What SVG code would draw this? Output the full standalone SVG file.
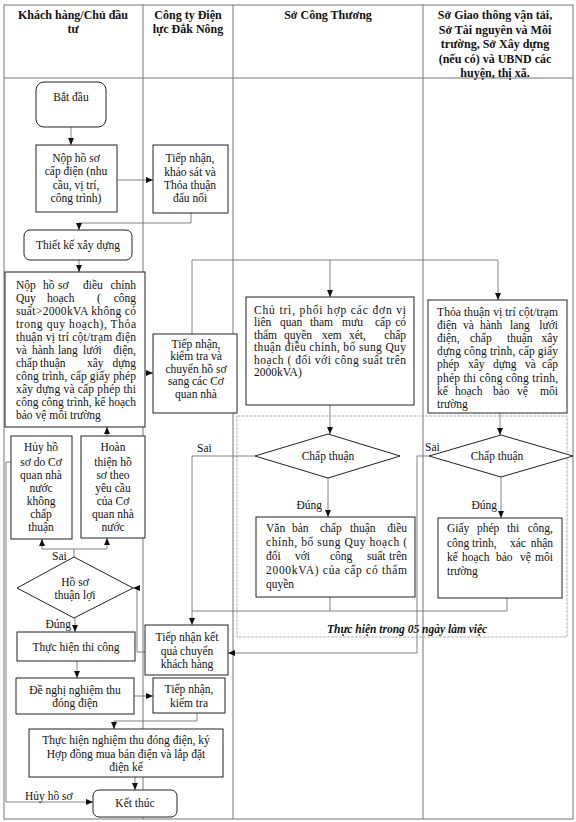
<svg xmlns="http://www.w3.org/2000/svg" width="576" height="822" viewBox="0 0 576 822">
<style>
.grid{fill:none;stroke:#777;stroke-width:1}
.b{fill:#fff;stroke:#222;stroke-width:1}
.c{fill:none;stroke:#666;stroke-width:0.8}
.dash{fill:none;stroke:#aaa;stroke-width:0.9;stroke-dasharray:3 1}
.h{font-family:"Liberation Serif",serif;font-size:12px;font-weight:bold;fill:#111;text-anchor:middle}
.t{font-family:"Liberation Serif",serif;font-size:11.5px;fill:#111}
.m{text-anchor:middle}
.e{text-anchor:end}
.bi{font-family:"Liberation Serif",serif;font-size:11.5px;font-weight:bold;font-style:italic;fill:#111}
</style>
<defs>
<marker id="a" markerWidth="7" markerHeight="6" refX="7" refY="3" orient="auto" markerUnits="userSpaceOnUse">
<path d="M0,0 L7,3 L0,6 z" fill="#111"/>
</marker>
</defs>
<rect width="576" height="822" fill="#fff"/>
<g id="table">
<rect class="grid" x="4" y="5" width="569" height="814"/>
<line class="grid" x1="4" y1="78" x2="573" y2="78"/>
<line class="grid" x1="143" y1="5" x2="143" y2="819"/>
<line class="grid" x1="233" y1="5" x2="233" y2="819"/>
<line class="grid" x1="423" y1="5" x2="423" y2="819"/>
<text class="h" x="73" y="19">Khách hàng/Chủ đầu</text>
<text class="h" x="73" y="33">tư</text>
<text class="h" x="188" y="19">Công ty Điện</text>
<text class="h" x="188" y="33">lực Đắk Nông</text>
<text class="h" x="328" y="19">Sở Công Thương</text>
<text class="h" x="495" y="19">Sở Giao thông vận tải,</text>
<text class="h" x="495" y="34">Sở Tài nguyên và Môi</text>
<text class="h" x="495" y="48">trường, Sở Xây dựng</text>
<text class="h" x="495" y="63">(nếu có) và UBND các</text>
<text class="h" x="495" y="77">huyện, thị xã.</text>
</g>
<g id="region">
<rect class="dash" x="237" y="416" width="330" height="221"/>
<text class="bi" x="327" y="633">Thực hiện trong 05 ngày làm việc</text>
</g>
<g id="connectors">
<path class="c" d="M71,127 V145" marker-end="url(#a)"/>
<path class="c" d="M117,180 H153" marker-end="url(#a)"/>
<path class="c" d="M191,213 V223 H79 V230" marker-end="url(#a)"/>
<path class="c" d="M79,260 V272" marker-end="url(#a)"/>
<path class="c" d="M145,373 H153" marker-end="url(#a)"/>
<path class="c" d="M192,334 V260 H498 V300" marker-end="url(#a)"/>
<path class="c" d="M330,260 V297" marker-end="url(#a)"/>
<path class="c" d="M330,405 V434" marker-end="url(#a)"/>
<path class="c" d="M255,456 H192 V625" marker-end="url(#a)"/>
<path class="c" d="M328,478 V517" marker-end="url(#a)"/>
<path class="c" d="M330,597 V611"/>
<path class="c" d="M507,598 V611 H192"/>
<path class="c" d="M500,413 V435" marker-end="url(#a)"/>
<path class="c" d="M429,456 H417 V653 H228" marker-end="url(#a)"/>
<path class="c" d="M501,477 V518" marker-end="url(#a)"/>
<path class="c" d="M107,436 V427" marker-end="url(#a)"/>
<path class="c" d="M74,557 V549"/>
<path class="c" d="M42,549 H107"/>
<path class="c" d="M42,549 V539" marker-end="url(#a)"/>
<path class="c" d="M107,549 V538" marker-end="url(#a)"/>
<path class="c" d="M11,462 H6 V802 H93" marker-end="url(#a)"/>
<path class="c" d="M145,652 H137 V588 H133" marker-end="url(#a)"/>
<path class="c" d="M75,618 V632" marker-end="url(#a)"/>
<path class="c" d="M77,661 V678" marker-end="url(#a)"/>
<path class="c" d="M134,696 H153" marker-end="url(#a)"/>
<path class="c" d="M197,713 V721 H114 V729" marker-end="url(#a)"/>
<path class="c" d="M135,777 V790" marker-end="url(#a)"/>
<text class="t" x="197" y="452">Sai</text>
<text class="t e" x="322" y="509">Đúng</text>
<text class="t" x="425" y="451">Sai</text>
<text class="t e" x="497" y="509">Đúng</text>
<text class="t" x="52" y="560">Sai</text>
<text class="t e" x="71" y="628">Đúng</text>
<text class="t" x="25" y="800">Hủy hồ sơ</text>
</g>
<g id="n-start">
<rect class="b" x="36" y="82" width="70" height="45" rx="8"/>
<text class="t m" x="71" y="101">Bắt đầu</text>
</g>
<g id="n-nop">
<rect class="b" x="36" y="145" width="81" height="67"/>
<text class="t m" x="76" y="162">Nộp hồ sơ</text>
<text class="t m" x="76" y="175">cấp điện (nhu</text>
<text class="t m" x="76" y="189">cầu, vị trí,</text>
<text class="t m" x="76" y="202">công trình)</text>
</g>
<g id="n-tiepnhan1">
<rect class="b" x="153" y="145" width="75" height="68"/>
<text class="t m" x="190" y="162">Tiếp nhận,</text>
<text class="t m" x="190" y="176">khảo sát và</text>
<text class="t m" x="190" y="189">Thỏa thuận</text>
<text class="t m" x="190" y="202">đấu nối</text>
</g>
<g id="n-thietke">
<rect class="b" x="24" y="230" width="108" height="30" rx="6"/>
<text class="t m" x="78" y="249">Thiết kế xây dựng</text>
</g>
<g id="n-dieuchinh">
<rect class="b" x="5" y="272" width="140" height="155"/>
<text class="t" y="289"><tspan x="16">Nộp</tspan><tspan x="43">hồ</tspan><tspan x="58">sơ</tspan><tspan x="83">điều</tspan><tspan x="136" text-anchor="end">chỉnh</tspan></text>
<text class="t" y="302"><tspan x="16">Quy</tspan><tspan x="47">hoạch</tspan><tspan x="97">(</tspan><tspan x="136" text-anchor="end">công</tspan></text>
<text class="t" x="16" y="315" textLength="120" lengthAdjust="spacing">suất&gt;2000kVA không có</text>
<text class="t" x="16" y="328" textLength="120" lengthAdjust="spacing">trong quy hoạch), Thỏa</text>
<text class="t" x="16" y="341" textLength="120" lengthAdjust="spacing">thuận vị trí cột/trạm điện</text>
<text class="t" y="354"><tspan x="16">và</tspan><tspan x="32">hành</tspan><tspan x="58">lang</tspan><tspan x="83">lưới</tspan><tspan x="136" text-anchor="end">điện,</tspan></text>
<text class="t" y="367"><tspan x="16">chấp</tspan><tspan x="40">thuận</tspan><tspan x="87">xây</tspan><tspan x="136" text-anchor="end">dựng</tspan></text>
<text class="t" x="16" y="380" textLength="120" lengthAdjust="spacing">công trình, cấp giấy phép</text>
<text class="t" x="16" y="393" textLength="120" lengthAdjust="spacing">xây dựng và cấp phép thi</text>
<text class="t" x="16" y="406" textLength="120" lengthAdjust="spacing">công công trình, kế hoạch</text>
<text class="t" x="16" y="419">bảo vệ môi trường</text>
</g>
<g id="n-tiepnhan2">
<rect class="b" x="153" y="334" width="84" height="79"/>
<text class="t m" x="196" y="348">Tiếp nhận,</text>
<text class="t m" x="196" y="360">kiểm tra và</text>
<text class="t m" x="196" y="373">chuyển hồ sơ</text>
<text class="t m" x="196" y="385">sang các Cơ</text>
<text class="t m" x="196" y="398">quan nhà</text>
</g>
<g id="n-chutri">
<rect class="b" x="246" y="297" width="168" height="108"/>
<text class="t" x="254" y="314" textLength="152" lengthAdjust="spacing">Chủ trì, phối hợp các đơn vị</text>
<text class="t" y="326"><tspan x="254">liên</tspan><tspan x="280">quan</tspan><tspan x="310">tham</tspan><tspan x="342">mưu</tspan><tspan x="375">cấp</tspan><tspan x="406" text-anchor="end">có</tspan></text>
<text class="t" y="339"><tspan x="254">thẩm</tspan><tspan x="284">quyền</tspan><tspan x="322">xem</tspan><tspan x="349">xét,</tspan><tspan x="406" text-anchor="end">chấp</tspan></text>
<text class="t" x="254" y="351" textLength="152" lengthAdjust="spacing">thuận điều chỉnh, bổ sung Quy</text>
<text class="t" x="254" y="364" textLength="152" lengthAdjust="spacing">hoạch ( đối với công suất trên</text>
<text class="t" x="254" y="376">2000kVA)</text>
</g>
<g id="n-chapthuan1">
<polygon class="b" points="328,434 400,456 328,478 255,456"/>
<text class="t m" x="328" y="460">Chấp thuận</text>
</g>
<g id="n-vanban">
<rect class="b" x="256" y="517" width="159" height="80"/>
<text class="t" y="532"><tspan x="266">Văn</tspan><tspan x="292">bản</tspan><tspan x="320">chấp</tspan><tspan x="350">thuận</tspan><tspan x="407" text-anchor="end">điều</tspan></text>
<text class="t" x="266" y="546" textLength="141" lengthAdjust="spacing">chỉnh, bổ sung Quy hoạch (</text>
<text class="t" y="560"><tspan x="266">đối</tspan><tspan x="295">với</tspan><tspan x="330">công</tspan><tspan x="367">suất</tspan><tspan x="407" text-anchor="end">trên</tspan></text>
<text class="t" x="266" y="574" textLength="141" lengthAdjust="spacing">2000kVA) của cấp có thẩm</text>
<text class="t" x="266" y="588">quyền</text>
</g>
<g id="n-thoathuan">
<rect class="b" x="428" y="300" width="139" height="113"/>
<text class="t" x="437" y="316" textLength="121" lengthAdjust="spacing">Thỏa thuận vị trí cột/trạm</text>
<text class="t" y="329"><tspan x="437">điện</tspan><tspan x="463">và</tspan><tspan x="480">hành</tspan><tspan x="510">lang</tspan><tspan x="558" text-anchor="end">lưới</tspan></text>
<text class="t" y="342"><tspan x="437">điện,</tspan><tspan x="470">chấp</tspan><tspan x="507">thuận</tspan><tspan x="558" text-anchor="end">xây</tspan></text>
<text class="t" x="437" y="355" textLength="121" lengthAdjust="spacing">dựng công trình, cấp giấy</text>
<text class="t" y="368"><tspan x="437">phép</tspan><tspan x="468">xây</tspan><tspan x="493">dựng</tspan><tspan x="525">và</tspan><tspan x="558" text-anchor="end">cấp</tspan></text>
<text class="t" x="437" y="382" textLength="121" lengthAdjust="spacing">phép thi công công trình,</text>
<text class="t" y="395"><tspan x="437">kế</tspan><tspan x="455">hoạch</tspan><tspan x="493">bảo</tspan><tspan x="517">vệ</tspan><tspan x="558" text-anchor="end">môi</tspan></text>
<text class="t" x="437" y="408">trường</text>
</g>
<g id="n-chapthuan2">
<polygon class="b" points="501,435 573,456 501,477 429,456"/>
<text class="t m" x="497" y="460">Chấp thuận</text>
</g>
<g id="n-giayphep">
<rect class="b" x="438" y="518" width="124" height="80"/>
<text class="t" y="532"><tspan x="447">Giấy</tspan><tspan x="477">phép</tspan><tspan x="507">thi</tspan><tspan x="553" text-anchor="end">công,</tspan></text>
<text class="t" y="547"><tspan x="447">công</tspan><tspan x="472">trình,</tspan><tspan x="510">xác</tspan><tspan x="553" text-anchor="end">nhận</tspan></text>
<text class="t" y="561"><tspan x="447">kế</tspan><tspan x="462">hoạch</tspan><tspan x="496">bảo</tspan><tspan x="520">vệ</tspan><tspan x="553" text-anchor="end">môi</tspan></text>
<text class="t" x="447" y="575">trường</text>
</g>
<g id="n-huy">
<rect class="b" x="11" y="436" width="61" height="103"/>
<text class="t m" x="41" y="451">Hủy hồ</text>
<text class="t m" x="41" y="466">sơ do Cơ</text>
<text class="t m" x="41" y="479">quan nhà</text>
<text class="t m" x="41" y="492">nước</text>
<text class="t m" x="41" y="505">không</text>
<text class="t m" x="41" y="518">chấp</text>
<text class="t m" x="41" y="531">thuận</text>
</g>
<g id="n-hoanthien">
<rect class="b" x="81" y="436" width="64" height="102"/>
<text class="t m" x="113" y="451">Hoàn</text>
<text class="t m" x="113" y="466">thiện hồ</text>
<text class="t m" x="113" y="479">sơ theo</text>
<text class="t m" x="113" y="492">yêu cầu</text>
<text class="t m" x="113" y="505">của Cơ</text>
<text class="t m" x="113" y="518">quan nhà</text>
<text class="t m" x="113" y="531">nước</text>
</g>
<g id="n-hosothuanloi">
<polygon class="b" points="74,557 133,588 74,618 17,588"/>
<text class="t m" x="75" y="586">Hồ sơ</text>
<text class="t m" x="75" y="599">thuận lợi</text>
</g>
<g id="n-thicong">
<rect class="b" x="17" y="632" width="118" height="29"/>
<text class="t m" x="76" y="651">Thực hiện thi công</text>
</g>
<g id="n-denghi">
<rect class="b" x="16" y="678" width="118" height="36"/>
<text class="t m" x="75" y="694">Đề nghị nghiệm thu</text>
<text class="t m" x="75" y="707">đóng điện</text>
</g>
<g id="n-ketqua">
<rect class="b" x="145" y="625" width="83" height="50"/>
<text class="t m" x="187" y="641">Tiếp nhận kết</text>
<text class="t m" x="187" y="655">quả chuyển</text>
<text class="t m" x="187" y="668">khách hàng</text>
</g>
<g id="n-kiemtra">
<rect class="b" x="153" y="678" width="72" height="35"/>
<text class="t m" x="189" y="693">Tiếp nhận,</text>
<text class="t m" x="189" y="707">kiểm tra</text>
</g>
<g id="n-nghiemthu">
<rect class="b" x="29" y="729" width="194" height="48"/>
<text class="t m" x="126" y="744">Thực hiện nghiệm thu đóng điện, ký</text>
<text class="t m" x="126" y="758">Hợp đồng mua bán điện và lắp đặt</text>
<text class="t m" x="126" y="771">điện kế</text>
</g>
<g id="n-ketthuc">
<rect class="b" x="93" y="790" width="84" height="27" rx="6"/>
<text class="t m" x="135" y="807">Kết thúc</text>
</g>
</svg>
